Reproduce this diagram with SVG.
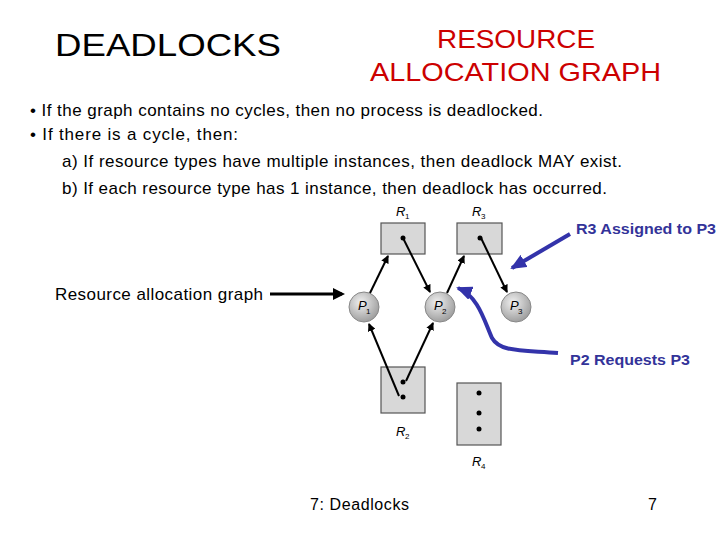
<svg xmlns="http://www.w3.org/2000/svg" width="720" height="540" viewBox="0 0 720 540">
<defs>
<style>
text{font-family:"Liberation Sans",Arial,sans-serif}
.t{font-size:17px;fill:#000}
.rb{fill:#d8d8d8;stroke:#555;stroke-width:1.2}
.lab{font-size:13px;font-style:italic;fill:#000}
.sub{font-size:8px;fill:#000}
.e{stroke:#000;stroke-width:2;fill:none;marker-end:url(#ah)}
.b{stroke:#3333aa;stroke-width:4;fill:none;marker-end:url(#bh)}
.bt{font-size:15px;font-weight:bold;fill:#333399}
</style>
<marker id="ah" markerWidth="8" markerHeight="8" refX="7" refY="4" orient="auto" markerUnits="userSpaceOnUse"><path d="M0,0L8,4L0,8z" fill="#000"/></marker>
<marker id="bh" markerWidth="16" markerHeight="14" refX="14" refY="7" orient="auto" markerUnits="userSpaceOnUse"><path d="M0,0L16,7L0,14z" fill="#3333aa"/></marker>
<radialGradient id="pg" cx="0.4" cy="0.35" r="0.7"><stop offset="0" stop-color="#f0f0f0"/><stop offset="1" stop-color="#999"/></radialGradient>
</defs>
<rect width="720" height="540" fill="#fff"/>
<text x="55" y="56" font-size="31" fill="#000" textLength="226" lengthAdjust="spacingAndGlyphs">DEADLOCKS</text>
<text x="437" y="48" font-size="26" fill="#cc0000" textLength="158" lengthAdjust="spacingAndGlyphs">RESOURCE</text>
<text x="370" y="81" font-size="26" fill="#cc0000" textLength="291" lengthAdjust="spacingAndGlyphs">ALLOCATION GRAPH</text>
<text x="30" y="116" class="t" textLength="513">• If the graph contains no cycles, then no process is deadlocked.</text>
<text x="30" y="140" class="t" textLength="208">• If there is a cycle, then:</text>
<text x="62" y="167" class="t" textLength="560">a) If resource types have multiple instances, then deadlock MAY exist.</text>
<text x="62" y="194" class="t" textLength="545">b) If each resource type has 1 instance, then deadlock has occurred.</text>
<text x="55" y="300" class="t" textLength="208">Resource allocation graph</text>
<line x1="270" y1="294" x2="342" y2="294" stroke="#000" stroke-width="3"/>
<path d="M333,288L345,294L333,300z" fill="#000"/>
<g id="R1"><text x="396" y="216" class="lab">R</text><text x="405" y="219" class="sub">1</text><rect x="381" y="223" width="44" height="31" class="rb"/><circle cx="403" cy="238" r="2.5"/></g>
<g id="R3"><text x="472" y="216" class="lab">R</text><text x="481" y="219" class="sub">3</text><rect x="457" y="223" width="45" height="31" class="rb"/><circle cx="480" cy="238" r="2.5"/></g>
<g id="P1"><circle cx="364" cy="307" r="15" fill="url(#pg)" stroke="#888"/><text x="358" y="310" class="lab">P</text><text x="366" y="314" class="sub">1</text></g>
<g id="P2"><circle cx="440" cy="307" r="15" fill="url(#pg)" stroke="#888"/><text x="434" y="310" class="lab">P</text><text x="442" y="314" class="sub">2</text></g>
<g id="P3"><circle cx="516" cy="307" r="15" fill="url(#pg)" stroke="#888"/><text x="510" y="310" class="lab">P</text><text x="518" y="314" class="sub">3</text></g>
<g id="R2"><rect x="381" y="367" width="44" height="46" class="rb"/><circle cx="403" cy="382" r="2.5"/><circle cx="403" cy="397" r="2.5"/><text x="396" y="436" class="lab">R</text><text x="405" y="439" class="sub">2</text></g>
<g id="R4"><rect x="457" y="383" width="44" height="62" class="rb"/><circle cx="479" cy="393" r="2.5"/><circle cx="479" cy="413" r="2.5"/><circle cx="479" cy="429" r="2.5"/><text x="472" y="466" class="lab">R</text><text x="481" y="469" class="sub">4</text></g>
<g id="connectors">
<line x1="370" y1="293" x2="388" y2="256" class="e"/>
<line x1="403" y1="238" x2="430" y2="292" class="e"/>
<line x1="447" y1="293" x2="464" y2="256" class="e"/>
<line x1="481" y1="238" x2="507" y2="292" class="e"/>
<line x1="399" y1="396" x2="369" y2="324" class="e"/>
<line x1="406" y1="381" x2="433" y2="323" class="e"/>
<line x1="570" y1="234" x2="512" y2="268" class="b"/>
<path d="M558,353 C520,350 500,352 492,338 C484,320 478,296 458,288" class="b"/>
</g>
<text x="576" y="234" class="bt" textLength="140" lengthAdjust="spacingAndGlyphs">R3 Assigned to P3</text>
<text x="570" y="365" class="bt" textLength="120" lengthAdjust="spacingAndGlyphs">P2 Requests P3</text>
<text x="310" y="510" font-size="16" fill="#000" textLength="99">7: Deadlocks</text>
<text x="648" y="510" font-size="16" fill="#000">7</text>
</svg>
